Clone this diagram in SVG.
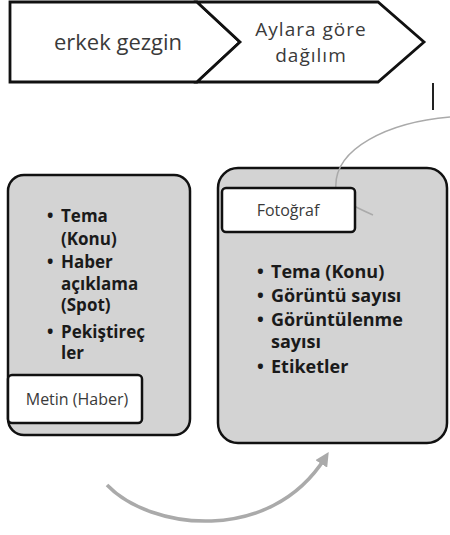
<svg xmlns="http://www.w3.org/2000/svg" width="450" height="535" viewBox="0 0 450 535">
<style>
.chev{fill:#fff;stroke:#111;stroke-width:2.8;stroke-linejoin:miter}
.box{fill:#d3d3d3;stroke:#111;stroke-width:2.5}
.lbl{fill:#fff;stroke:#111;stroke-width:2.5}
.t{font-family:"Open Sans","Liberation Sans",sans-serif;fill:#3a3a3a}
.b{font-family:"Open Sans","Liberation Sans",sans-serif;font-weight:bold;fill:#1a1a1a}
.gray{fill:none;stroke:#aaa}
</style>
<defs>
<marker id="ah" viewBox="0 0 10 10" refX="5" refY="5" markerWidth="4" markerHeight="4" orient="auto">
<path d="M0,0 L10,5 L0,10 z" fill="#aaa"/>
</marker>
</defs>
<g id="chevron1">
<path class="chev" d="M10,2 L197,2 L240,42 L197,82 L10,82 z"/>
<text class="t" x="118" y="50" font-size="22" text-anchor="middle">erkek gezgin</text>
</g>
<g id="chevron2">
<path class="chev" d="M197,2 L378,2 L424,42 L378,82 L197,82 L240,42 z"/>
<text class="t" x="311" y="36" font-size="19" letter-spacing="1" text-anchor="middle">Aylara göre</text>
<text class="t" x="311" y="62" font-size="19" letter-spacing="1" text-anchor="middle">dağılım</text>
</g>
<g id="metin">
<rect class="box" x="8" y="175" width="182" height="260" rx="16"/>
<g class="b" style="font-size:17px">
<text x="47" y="222">•</text><text x="61" y="222">Tema</text>
<text x="61" y="245">(Konu)</text>
<text x="47" y="268">•</text><text x="61" y="268">Haber</text>
<text x="61" y="290">açıklama</text>
<text x="61" y="311">(Spot)</text>
<text x="47" y="338">•</text><text x="61" y="338">Pekiştireç</text>
<text x="61" y="359">ler</text>
</g>
<rect class="lbl" x="8" y="375" width="134" height="48" rx="4"/>
<text class="t" x="77" y="405" font-size="16" text-anchor="middle">Metin (Haber)</text>
</g>
<g id="fotograf">
<rect class="box" x="218" y="168" width="229" height="275" rx="20"/>
</g>
<g id="connectors">
<line x1="433" y1="83" x2="433" y2="110" stroke="#222" stroke-width="2"/>
<path class="gray" stroke-width="1.5" d="M450,117 C 390,122 332,148 336,190 C 340,200 355,207 373,215"/>
<path class="gray" stroke-width="3.5" d="M107,485 C 150,530 270,545 325,458" marker-end="url(#ah)"/>
</g>
<g id="fotograf-content">
<rect class="lbl" x="222" y="188" width="133" height="44" rx="4"/>
<text class="t" x="288" y="216" font-size="16" text-anchor="middle">Fotoğraf</text>
<g class="b" style="font-size:18px">
<text x="257" y="278">•</text><text x="271" y="278">Tema (Konu)</text>
<text x="257" y="302">•</text><text x="271" y="302">Görüntü sayısı</text>
<text x="257" y="326">•</text><text x="271" y="326">Görüntülenme</text>
<text x="271" y="348">sayısı</text>
<text x="257" y="373">•</text><text x="271" y="373">Etiketler</text>
</g>
</g>
</svg>
